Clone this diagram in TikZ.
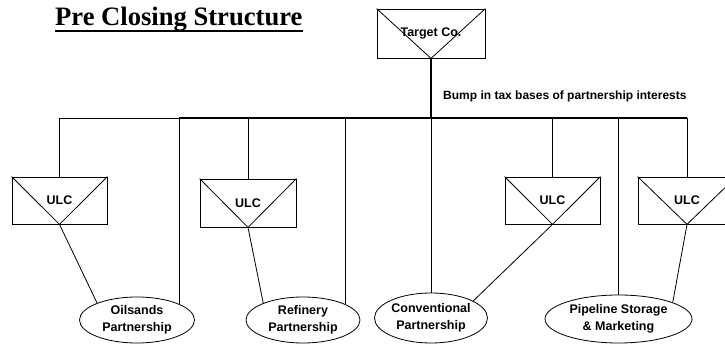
\documentclass[tikz,border=0pt]{standalone}
\usepackage{fontspec}
\setmainfont{Liberation Serif}
\setsansfont{Liberation Sans}
\usetikzlibrary{shapes.geometric}

\tikzset{
  entity/.style={draw, rectangle, inner sep=0pt, line width=0.8pt,
    font=\sffamily\bfseries\fontsize{12.5}{15}\selectfont},
  partner/.style={draw, ellipse, inner sep=0pt, align=center, line width=0.8pt,
    font=\sffamily\bfseries\fontsize{12.5}{16.5}\selectfont},
  link/.style={line width=0.8pt},
  busline/.style={line width=1.4pt},
  trunk/.style={line width=2.4pt}
}

\begin{document}
\begin{tikzpicture}[x=1pt, y=-1pt]
    \useasboundingbox (0,0) rectangle (725,344);

    % Title
    \node[anchor=base west, inner sep=0pt, font=\bfseries\fontsize{26.6}{30}\selectfont] (title) at (55,26) {Pre Closing Structure};
    \draw[line width=1.6pt] ([yshift=-5pt]title.base west) -- ([yshift=-5pt]title.base east);

    % Corporations (boxes with triangles)
    \node[entity, minimum width=108, minimum height=49] (target) at (431,33.5) {Target Co.};
    \node[entity, minimum width=95, minimum height=47] (ulc1) at (59.5,200.5) {ULC};
    \node[entity, minimum width=96, minimum height=48] (ulc2) at (248,203) {ULC};
    \node[entity, minimum width=95, minimum height=47] (ulc3) at (552.5,200.5) {ULC};
    \node[entity, minimum width=98, minimum height=47] (ulc4) at (687,200.5) {ULC};
    \foreach \n in {target,ulc1,ulc2,ulc3,ulc4}
        \draw[link] (\n.north west) -- (\n.south) -- (\n.north east);

    % Partnerships
    \node[partner, minimum width=115, minimum height=46] (oil) at (137,320) {Oilsands\\Partnership};
    \node[partner, minimum width=114, minimum height=46] (ref) at (303,320) {Refinery\\Partnership};
    \node[partner, minimum width=113, minimum height=50] (conv) at (431,318) {Conventional\\Partnership};
    \node[partner, minimum width=147, minimum height=48] (pipe) at (618.5,319) {Pipeline Storage\\\& Marketing};

    % Trunk and bus
    \coordinate (bus) at (431,118);
    \draw[trunk] (target.south) -- (bus);
    \draw[link] (ulc1.north |- bus) -- (oil.21 |- bus);
    \draw[busline] (oil.21 |- bus) -- (ulc4.north |- bus);
    \node[anchor=base west, inner sep=0pt, font=\sffamily\bfseries\fontsize{12}{14}\selectfont] (bump) at (443,99.5) {Bump in tax bases of partnership interests};

    % Drops from the bus
    \foreach \n in {ulc1,ulc2,ulc3,ulc4,conv,pipe}
        \draw[link] (\n.north |- bus) -- (\n.north);
    \draw[link] (oil.21 |- bus) -- (oil.21);
    \draw[link] (ref.20 |- bus) -- (ref.20);

    % ULC to partnership
    \draw[link] (ulc1.south) -- (oil.157);
    \draw[link] (ulc2.south) -- (ref.157);
    \draw[link] (ulc3.south) -- (conv.22);
    \draw[link] (ulc4.south) -- (pipe.17);
\end{tikzpicture}
\end{document}
